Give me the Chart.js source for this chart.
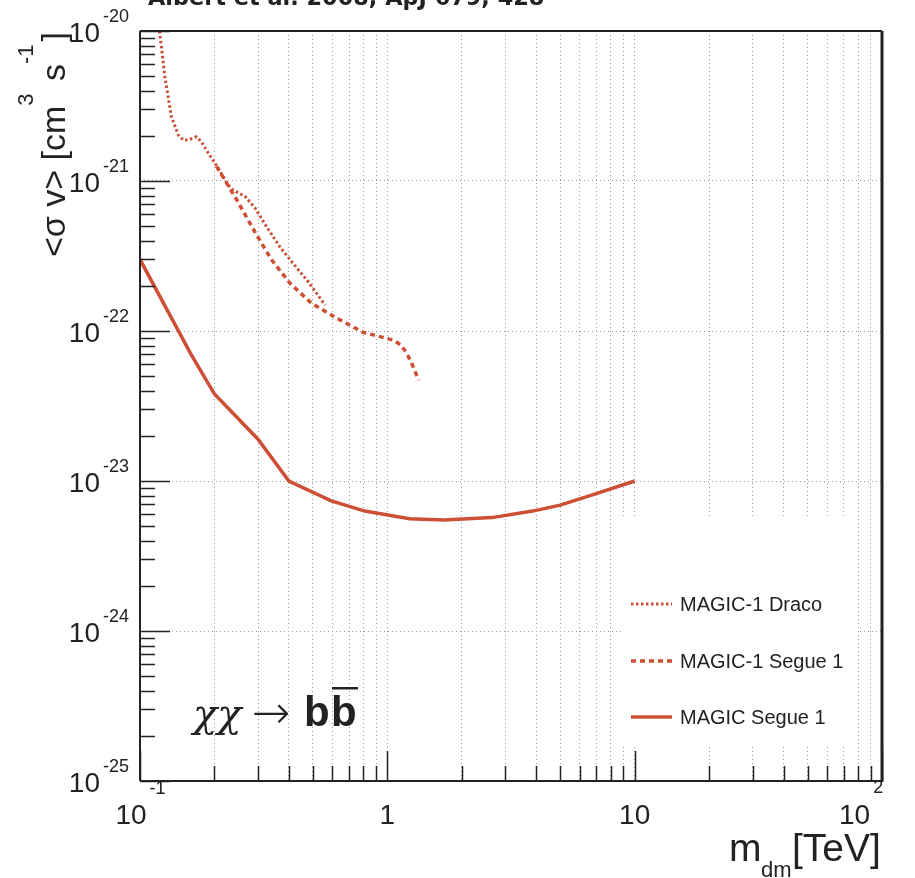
<!DOCTYPE html>
<html>
<head>
<meta charset="utf-8">
<script src="https://cdn.jsdelivr.net/npm/chart.js@4.4.1/dist/chart.umd.min.js"></script>
<style>
  html, body { margin: 0; padding: 0; background: #fff; }
  #wrap { width: 915px; height: 878px; }
</style>
</head>
<body>
<div id="wrap"><canvas id="limits" width="915" height="878"></canvas></div>
<script>
// upper limits on <sigma v> for chi chi -> b bbar
const dracoMass = [0.12, 0.126, 0.134, 0.143, 0.15, 0.157, 0.169, 0.177, 0.189, 0.207, 0.227, 0.238, 0.266, 0.292, 0.325, 0.368, 0.416, 0.479, 0.56];
const dracoSigmaV = [1.0e-20, 4.96e-21, 2.68e-21, 2.02e-21, 1.87e-21, 1.88e-21, 1.97e-21, 1.83e-21, 1.53e-21, 1.22e-21, 9.4e-22, 8.7e-22, 7.9e-22, 6.6e-22, 4.95e-22, 3.63e-22, 2.82e-22, 2.13e-22, 1.49e-22];

const segue1OldMass = [0.204, 0.246, 0.296, 0.341, 0.404, 0.494, 0.623, 0.799, 1.056, 1.13, 1.2, 1.27, 1.34];
const segue1OldSigmaV = [1.25e-21, 7.5e-22, 4.37e-22, 2.97e-22, 2.08e-22, 1.53e-22, 1.22e-22, 9.8e-23, 8.7e-23, 8.1e-23, 7.1e-23, 5.8e-23, 4.7e-23];

const segue1Mass = [0.1, 0.16, 0.2, 0.3, 0.4, 0.59, 0.81, 1.23, 1.69, 2.65, 3.87, 5.0, 7.1, 10];
const segue1SigmaV = [3.0e-22, 7.1e-23, 3.8e-23, 1.9e-23, 1.0e-23, 7.4e-24, 6.3e-24, 5.6e-24, 5.5e-24, 5.7e-24, 6.3e-24, 6.9e-24, 8.3e-24, 1.0e-23];

const seriesNames = ['MAGIC-1 Draco', 'MAGIC-1 Segue 1', 'MAGIC Segue 1'];

// axis labels
const xLabelValues = [0.1, 1, 10, 100];
const xLabelBase = ['10', '1', '10', '10'];
const xLabelExp = ['-1', '', '', '2'];
const yLabelValues = [1e-25, 1e-24, 1e-23, 1e-22, 1e-21, 1e-20];
const yLabelExp = ['-25', '-24', '-23', '-22', '-21', '-20'];

// grid / tick positions: 1..9 x 10^n
const xDecades = [-1, 0, 1];
const yDecades = [-25, -24, -23, -22, -21];
const xGridValues = [];
xDecades.forEach(function (e) {
  for (let k = 1; k < 10; k++) xGridValues.push(k * Math.pow(10, e));
});
xGridValues.push(100);
const yMinorValues = [];
yDecades.forEach(function (e) {
  for (let k = 2; k < 10; k++) yMinorValues.push(k * Math.pow(10, e));
});

const RED = '#cd4f35';
const INK = '#222222';
const FONT = '"Liberation Sans", Arial, Helvetica, sans-serif';

function pts(xs, ys) {
  return xs.map(function (x, i) { return {x: x, y: ys[i]}; });
}

function drawPow(ctx, base, exp, x, y, expRaise, baseSize, expSize, align) {
  ctx.font = baseSize + 'px ' + FONT;
  const wb = ctx.measureText(base).width;
  ctx.font = expSize + 'px ' + FONT;
  const we = exp ? ctx.measureText(exp).width + 2 : 0;
  let left = x;
  if (align === 'center') left = x - (wb + we) / 2;
  if (align === 'right') left = x - wb;
  ctx.textAlign = 'left';
  ctx.textBaseline = 'alphabetic';
  ctx.font = baseSize + 'px ' + FONT;
  ctx.fillText(base, left, y);
  if (exp) {
    ctx.font = expSize + 'px ' + FONT;
    ctx.fillText(exp, left + wb + 3, y - expRaise);
  }
}

const rootFrame = {
  id: 'rootFrame',
  beforeDatasetsDraw: function (chart) {
    // legend box hides the grid behind it
    const ctx = chart.ctx;
    ctx.save();
    ctx.fillStyle = '#ffffff';
    ctx.fillRect(621, 517, 236, 228);
    ctx.restore();
  },
  afterDraw: function (chart) {
    const ctx = chart.ctx;
    const ca = chart.chartArea;
    const xs = chart.scales.x;
    const ys = chart.scales.y;
    ctx.save();
    ctx.strokeStyle = INK;
    ctx.fillStyle = INK;
    ctx.setLineDash([]);

    // frame
    ctx.lineWidth = 2;
    ctx.beginPath();
    ctx.moveTo(ca.left, ca.top); ctx.lineTo(ca.right, ca.top);
    ctx.moveTo(ca.left, ca.top); ctx.lineTo(ca.left, ca.bottom);
    ctx.moveTo(ca.left, ca.bottom); ctx.lineTo(ca.right, ca.bottom);
    ctx.stroke();
    ctx.lineWidth = 3;
    ctx.beginPath();
    ctx.moveTo(ca.right, ca.top); ctx.lineTo(ca.right, ca.bottom + 1);
    ctx.stroke();

    // ticks, drawn inside like ROOT
    ctx.lineWidth = 1.5;
    ctx.beginPath();
    yMinorValues.forEach(function (v) {
      const p = Math.round(ys.getPixelForValue(v)) + 0.5;
      ctx.moveTo(ca.left, p); ctx.lineTo(ca.left + 15, p);
    });
    yLabelValues.forEach(function (v) {
      const p = Math.round(ys.getPixelForValue(v)) + 0.5;
      ctx.moveTo(ca.left, p); ctx.lineTo(ca.left + 30, p);
    });
    xGridValues.forEach(function (v) {
      const p = Math.round(xs.getPixelForValue(v)) + 0.5;
      const major = xLabelValues.indexOf(v) >= 0;
      ctx.moveTo(p, ca.bottom); ctx.lineTo(p, ca.bottom - (major ? 30 : 15));
    });
    ctx.stroke();

    // y tick labels
    yLabelValues.forEach(function (v, i) {
      const p = ys.getPixelForValue(v);
      drawPow(ctx, '10', yLabelExp[i], 100, p + 11, 20, 28, 18, 'right');
    });
    // x tick labels
    xLabelValues.forEach(function (v, i) {
      const p = xs.getPixelForValue(v);
      if (i === xLabelValues.length - 1) {
        drawPow(ctx, xLabelBase[i], xLabelExp[i], 839, 824, 31, 28, 18, 'left');
      } else {
        drawPow(ctx, xLabelBase[i], xLabelExp[i], p, 824, 30, 28, 18, 'center');
      }
    });

    // x title: m_dm [TeV]
    ctx.textAlign = 'left';
    ctx.font = '39px ' + FONT;
    ctx.fillText('m', 729, 861);
    ctx.font = '22px ' + FONT;
    ctx.fillText('dm', 761, 877);
    ctx.font = '39px ' + FONT;
    ctx.fillText('[TeV]', 792, 861);

    // y title: <sigma v> [cm^3 s^-1]
    ctx.save();
    ctx.translate(65, 257);
    ctx.rotate(-Math.PI / 2);
    let cx = 0;
    [['<\u03c3 v> [cm', 34, 0], ['3', 22, 32], [' s', 34, 0], ['-1', 22, 32], [']', 34, 0]].forEach(function (pc) {
      ctx.font = pc[1] + 'px ' + FONT;
      ctx.fillText(pc[0], cx, -pc[2]);
      cx += ctx.measureText(pc[0]).width + (pc[1] < 30 ? 3 : 0);
    });
    ctx.restore();

    // process label
    ctx.font = 'italic 40px "DejaVu Serif", serif';
    ctx.fillText('\u03c7\u03c7', 193, 727);
    ctx.font = '200 46px "DejaVu Sans", sans-serif';
    ctx.fillText('\u2192', 252, 728);
    ctx.font = 'bold 42px ' + FONT;
    ctx.fillText('b', 304, 726);
    ctx.fillText('b', 331, 726);
    ctx.fillRect(332, 687, 26, 2.5);

    // legend
    const ds = chart.data.datasets;
    const rowY = [604, 661, 717];
    ds.forEach(function (d, i) {
      ctx.save();
      ctx.strokeStyle = d.borderColor;
      ctx.lineWidth = d.borderWidth;
      ctx.setLineDash(d.borderDash || []);
      ctx.beginPath();
      ctx.moveTo(631, rowY[i]); ctx.lineTo(672, rowY[i]);
      ctx.stroke();
      ctx.restore();
      ctx.font = '20px ' + FONT;
      ctx.textBaseline = 'middle';
      ctx.fillText(d.label, 680, rowY[i] + 1);
      ctx.textBaseline = 'alphabetic';
    });

    // reference line, cut by the top of the picture
    const ref = 'Albert et al. 2008, ApJ 679, 428';
    ctx.font = 'bold 24px "DejaVu Sans", sans-serif';
    const w = ctx.measureText(ref).width;
    const size = 24 * 397 / w;
    ctx.font = 'bold ' + size.toFixed(1) + 'px "DejaVu Sans", sans-serif';
    ctx.fillText(ref, 148, 5);
    ctx.restore();
  }
};

const chart = new Chart(document.getElementById('limits'), {
  type: 'line',
  data: {
    datasets: [
      {label: seriesNames[0], data: pts(dracoMass, dracoSigmaV), borderColor: RED, borderWidth: 3, borderDash: [2.5, 2.5]},
      {label: seriesNames[1], data: pts(segue1OldMass, segue1OldSigmaV), borderColor: RED, borderWidth: 3.5, borderDash: [5, 4]},
      {label: seriesNames[2], data: pts(segue1Mass, segue1SigmaV), borderColor: RED, borderWidth: 3.5}
    ]
  },
  options: {
    responsive: false,
    animation: false,
    devicePixelRatio: 1,
    layout: {padding: {left: 140, right: 33, top: 31, bottom: 97}},
    elements: {
      point: {radius: 0},
      line: {tension: 0, fill: false, borderCapStyle: 'butt'}
    },
    plugins: {legend: {display: false}, tooltip: {enabled: false}},
    scales: {
      x: {
        type: 'logarithmic',
        min: 0.1,
        max: 100,
        afterBuildTicks: function (s) { s.ticks = xGridValues.map(function (v) { return {value: v}; }); },
        ticks: {display: false},
        grid: {color: '#9a9a9a', lineWidth: 1, drawTicks: false},
        border: {display: false, dash: [1, 3]}
      },
      y: {
        type: 'logarithmic',
        min: 1e-25,
        max: 1e-20,
        afterBuildTicks: function (s) { s.ticks = yLabelValues.map(function (v) { return {value: v}; }); },
        ticks: {display: false},
        grid: {color: '#9a9a9a', lineWidth: 1, drawTicks: false},
        border: {display: false, dash: [1, 3]}
      }
    }
  },
  plugins: [rootFrame]
});
</script>
</body>
</html>
